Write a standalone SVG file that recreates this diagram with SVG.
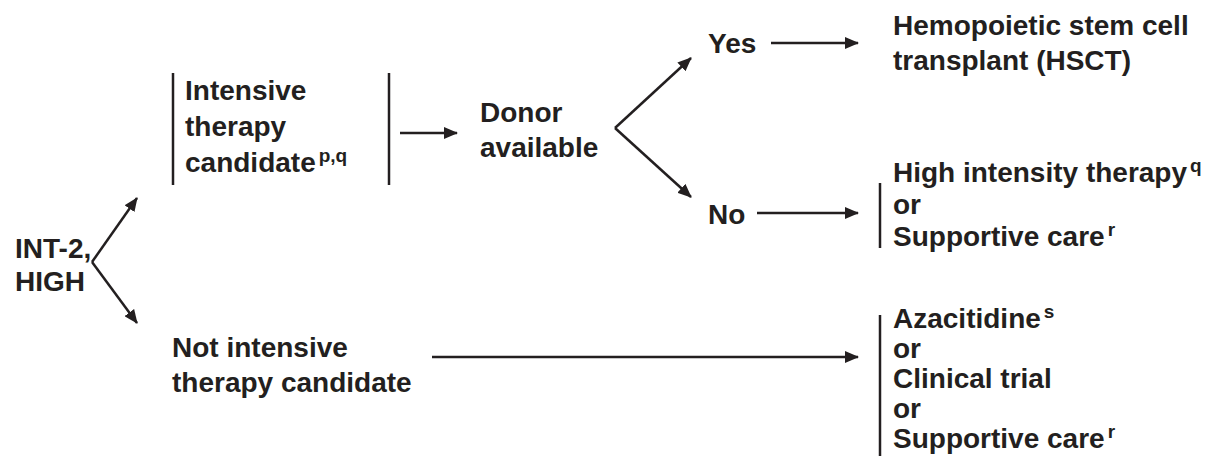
<svg xmlns="http://www.w3.org/2000/svg" width="1222" height="456" viewBox="0 0 1222 456">
<style>
text{font-family:"Liberation Sans",Arial,sans-serif;font-weight:bold;font-size:28px;fill:#231f20}
.sup{font-size:19px}
.bar{stroke:#231f20;stroke-width:2.5;fill:none}
.c{stroke:#231f20;stroke-width:2.5;fill:none;marker-end:url(#ah)}
</style>
<defs>
<marker id="ah" viewBox="0 0 14 12" refX="13" refY="6" markerWidth="14" markerHeight="12" markerUnits="userSpaceOnUse" orient="auto">
<path d="M0,0 L14,6 L0,12 Z" fill="#231f20"/>
</marker>
</defs>
<rect width="1222" height="456" fill="#fff"/>
<g id="root">
<text x="15" y="258">INT-2,</text>
<text x="15" y="291">HIGH</text>
</g>
<g id="intensive">
<line class="bar" x1="173" y1="73" x2="173" y2="185"/>
<line class="bar" x1="389" y1="73" x2="389" y2="185"/>
<text x="185" y="100">Intensive</text>
<text x="185" y="136">therapy</text>
<text x="185" y="172">candidate<tspan class="sup" dx="3" dy="-10">p,q</tspan></text>
</g>
<g id="donor">
<text x="480" y="122">Donor</text>
<text x="480" y="157">available</text>
</g>
<g id="yes">
<text x="708" y="53">Yes</text>
</g>
<g id="no">
<text x="708" y="224">No</text>
</g>
<g id="hsct">
<text x="893" y="35">Hemopoietic stem cell</text>
<text x="893" y="70">transplant (HSCT)</text>
</g>
<g id="high">
<line class="bar" x1="880" y1="183" x2="880" y2="248"/>
<text x="893" y="182">High intensity therapy<tspan class="sup" dx="3" dy="-10">q</tspan></text>
<text x="893" y="214">or</text>
<text x="893" y="246">Supportive care<tspan class="sup" dx="3" dy="-10">r</tspan></text>
</g>
<g id="notintensive">
<text x="172" y="357">Not intensive</text>
<text x="172" y="392">therapy candidate</text>
</g>
<g id="aza">
<line class="bar" x1="880" y1="315" x2="880" y2="456"/>
<text x="893" y="328">Azacitidine<tspan class="sup" dx="3" dy="-10">s</tspan></text>
<text x="893" y="358">or</text>
<text x="893" y="388">Clinical trial</text>
<text x="893" y="418">or</text>
<text x="893" y="448">Supportive care<tspan class="sup" dx="3" dy="-10">r</tspan></text>
</g>
<g id="connectors">
<polyline class="c" points="92,262 137,198"/>
<polyline class="c" points="92,262 137,323"/>
<line class="c" x1="400" y1="133" x2="457" y2="133"/>
<polyline class="c" points="615,128 691,58"/>
<polyline class="c" points="615,128 691,197"/>
<line class="c" x1="771" y1="43" x2="858" y2="43"/>
<line class="c" x1="757" y1="213" x2="858" y2="213"/>
<line class="c" x1="432" y1="357" x2="858" y2="357"/>
</g>
</svg>
